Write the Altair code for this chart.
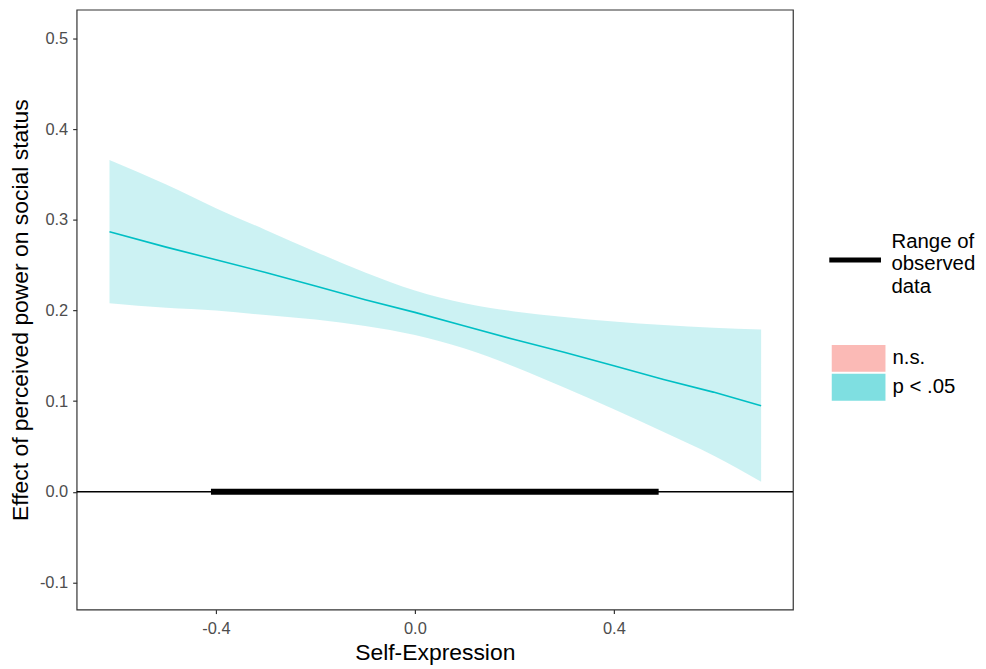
import altair as alt
import pandas as pd

# Johnson-Neyman style data
x_vals = [-0.614, -0.5, -0.4, -0.3, -0.2, -0.1, 0.0, 0.1, 0.2, 0.3, 0.4, 0.5, 0.6, 0.696]
est_vals = [0.287, 0.270, 0.256, 0.242, 0.227, 0.212, 0.198, 0.183, 0.168, 0.154, 0.139, 0.124, 0.110, 0.095]
upper_vals = [0.366, 0.339, 0.313, 0.289, 0.265, 0.242, 0.222, 0.208, 0.199, 0.193, 0.188, 0.184, 0.181, 0.179]
lower_vals = [0.208, 0.203, 0.200, 0.195, 0.190, 0.183, 0.173, 0.158, 0.138, 0.115, 0.091, 0.066, 0.040, 0.011]
sig_group = ["p < .05"] * len(x_vals)

range_start = [-0.41]
range_end = [0.49]
range_label = ["Range of observed data"]

sig_domain = ["n.s.", "p < .05"]
sig_colors = ["#F8766D", "#00BFC4"]

x_ticks = [-0.4, 0.0, 0.4]
y_ticks = [-0.1, 0.0, 0.1, 0.2, 0.3, 0.4, 0.5]

df = pd.DataFrame({"x": x_vals, "est": est_vals, "upper": upper_vals,
                   "lower": lower_vals, "sig": sig_group})
rng = pd.DataFrame({"x": range_start, "x2": range_end, "y": [0.0], "lab": range_label})
zero = pd.DataFrame({"y": [0.0]})

xscale = alt.Scale(domain=[-0.68, 0.76], nice=False, zero=False)
yscale = alt.Scale(domain=[-0.13, 0.532], nice=False, zero=False)

label_expr = "replace(format(datum.value, '.1f'), '\u2212', '-')"
xaxis = alt.Axis(values=x_ticks, labelExpr=label_expr, title="Self-Expression", grid=False)
yaxis = alt.Axis(values=y_ticks, labelExpr=label_expr,
                 title="Effect of perceived power on social status", grid=False)

band = alt.Chart(df).mark_area(fillOpacity=0.2, interpolate="monotone").encode(
    x=alt.X("x:Q", scale=xscale, axis=xaxis),
    y=alt.Y("lower:Q", scale=yscale, axis=yaxis),
    y2="upper:Q",
    fill=alt.Fill("sig:N", scale=alt.Scale(domain=sig_domain, range=sig_colors),
                  legend=alt.Legend(title=None, orient="none", legendX=772.5, legendY=337,
                                    symbolType="M-2,-1H2V1H-2Z", symbolSize=729,
                                    symbolOpacity=0.5, symbolStrokeWidth=0,
                                    labelFontSize=20.5, labelColor="#000000",
                                    labelFont="Liberation Sans", rowPadding=2,
                                    labelOffset=20.5)),
)

line = alt.Chart(df).mark_line(color="#00BFC4", strokeWidth=1.6).encode(
    x=alt.X("x:Q", scale=xscale),
    y=alt.Y("est:Q", scale=yscale),
)

zero_rule = alt.Chart(zero).mark_rule(color="#000000", strokeWidth=1.5).encode(
    y=alt.Y("y:Q", scale=yscale),
)

range_rule = alt.Chart(rng).mark_rule(strokeWidth=6).encode(
    x=alt.X("x:Q", scale=xscale),
    x2="x2:Q",
    y=alt.Y("y:Q", scale=yscale),
    stroke=alt.Stroke("lab:N", scale=alt.Scale(domain=range_label, range=["#000000"]),
                      legend=alt.Legend(title=None, orient="none", legendX=754, legendY=205,
                                        symbolType="M-1,0.7H1", symbolSize=2700,
                                        symbolStrokeWidth=5,
                                        labelExpr="['Range of', 'observed', 'data']",
                                        labelFontSize=20.5, labelColor="#000000",
                                        labelFont="Liberation Sans", labelOffset=8,
                                        labelLimit=200)),
)

chart = alt.layer(band, line, zero_rule, range_rule).resolve_scale(
    fill="independent", stroke="independent"
).properties(
    width=720, height=603,
    autosize=alt.AutoSizeParams(type="none"),
    padding={"left": 69, "top": 0, "right": 186, "bottom": 56},
).configure_view(
    stroke="#333333", strokeWidth=1.2
).configure_axis(
    domain=False,
    tickColor="#333333", tickSize=4, tickWidth=1.2,
    labelColor="#4D4D4D", labelFontSize=16.5, labelFont="Liberation Sans",
    titleColor="#000000", titleFontSize=23, titleFont="Liberation Sans",
    titleFontWeight="normal",
).configure_axisX(
    labelPadding=7, titlePadding=5
).configure_axisY(
    labelPadding=5, titlePadding=7
)

chart.save("out.html", embed_options={"renderer": "svg", "actions": False})
